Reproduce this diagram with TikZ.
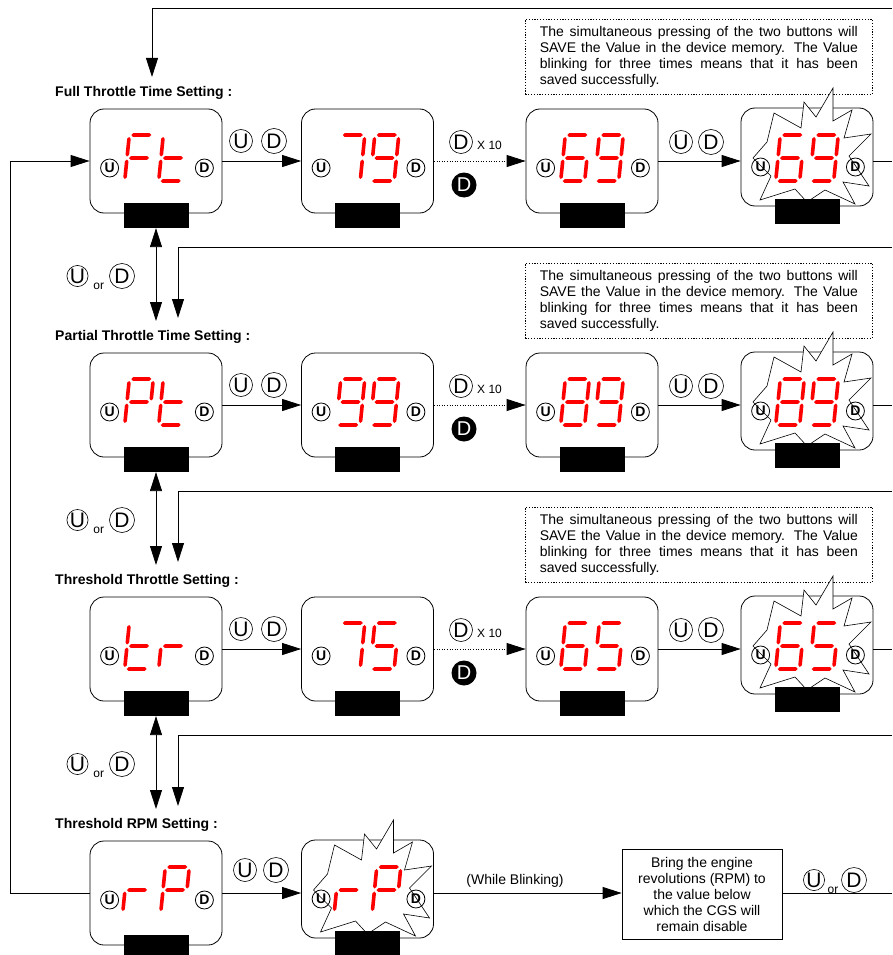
\documentclass[tikz,border=0pt]{standalone}
\usepackage{fontspec}
\setmainfont{Liberation Sans}
\usetikzlibrary{arrows.meta,calc}

\tikzset{
  dispbox/.style={draw, line width=0.8pt, rounded corners=14pt, minimum width=132pt, minimum height=104pt, inner sep=0},
  barbox/.style={fill=black, minimum width=65pt, minimum height=25pt, inner sep=0},
  smallbtn/.style={circle, draw, line width=0.8pt, minimum size=18pt, inner sep=0, font=\bfseries\fontsize{14}{14}\selectfont},
  bigbtn/.style={circle, draw, line width=0.6pt, minimum size=23pt, inner sep=0, font=\fontsize{21}{21}\selectfont},
  blackbtn/.style={circle, fill=black, minimum size=25pt, inner sep=0, text=white, font=\fontsize{20}{20}\selectfont},
  ortext/.style={inner sep=0, font=\fontsize{12}{12}\selectfont},
  lbl/.style={inner sep=0, anchor=west, font=\bfseries\fontsize{14}{16}\selectfont},
  notebox/.style={draw, dash pattern=on 1.2pt off 1.6pt, line width=0.7pt, anchor=north west, text width=318pt, inner xsep=14.5pt, inner ysep=0pt, minimum height=75pt, align=justify, font=\fontsize{14}{15.7}\selectfont},
  rectbox/.style={draw, line width=0.7pt, minimum width=160pt, minimum height=90pt, align=center, inner sep=2pt, font=\fontsize{14}{16}\selectfont},
  plaintext/.style={inner sep=0, font=\fontsize{14}{16}\selectfont},
  arr/.style={-{Triangle[length=19pt,width=12pt]}, line width=0.8pt},
  darr/.style={{Triangle[length=19pt,width=12pt]}-{Triangle[length=19pt,width=12pt]}, line width=0.8pt},
  conn/.style={line width=0.8pt},
  dotline/.style={dash pattern=on 1pt off 1.6pt},
  segred/.style={fill=red},
  starshape/.style={fill=white, draw=black, line width=0.6pt}
}

% seven-segment helpers
\newcommand\hsg[3]{\fill[segred] (#1,#3) -- ({#1+1.8},{#3-1.8}) -- ({#2-1.8},{#3-1.8}) -- (#2,#3) -- ({#2-1.8},{#3+1.8}) -- ({#1+1.8},{#3+1.8}) -- cycle;}
\newcommand\vsg[3]{\fill[segred] (#1,#2) -- ({#1+1.8},{#2+1.8}) -- ({#1+1.8},{#3-1.8}) -- (#1,#3) -- ({#1-1.8},{#3-1.8}) -- ({#1-1.8},{#2+1.8}) -- cycle;}
\def\svsa{\hsg{-10}{10}{-23}}
\def\svsb{\vsg{12}{-21}{-1.5}}
\def\svsc{\vsg{12}{1.5}{21}}
\def\svsd{\hsg{-10}{10}{23}}
\def\svse{\vsg{-12}{1.5}{21}}
\def\svsf{\vsg{-12}{-21}{-1.5}}
\def\svsg{\hsg{-10}{10}{0}}
\newcommand\sevdigit[3]{\begin{scope}[shift={({#1},{#2})}, xslant=0.1]\foreach \s in {#3}{\csname svs\s\endcsname}\end{scope}}

\newcommand\blinkstar[2]{\filldraw[starshape, shift={({#1},{#2})}] (26,-70) -- (26,-37) -- (45,-48) -- (37,-20) -- (64,-24) -- (42,-2) -- (62,28) -- (36,24) -- (48,46) -- (18,32) -- (0,44) -- (-12,31) -- (-47,42) -- (-36,18) -- (-54,0) -- (-40,-16) -- (-33,-45) -- (-6,-30) -- (-3,-56) -- (9,-41) -- cycle;}

% normal display unit: name, cx, cy, segs1, segs2, half-sep
\newcommand\dunit[6]{%
  \node[dispbox] (#1) at (#2,#3) {};
  \node[smallbtn] (#1U) at ($(#1.west)+(20,7)$) {U};
  \node[smallbtn] (#1D) at ($(#1.east)+(-18,7)$) {D};
  \sevdigit{#2-#6}{#3-3}{#4}
  \sevdigit{#2+#6}{#3-3}{#5}
  \node[barbox] (#1bar) at ($(#1.south)+(0,2)$) {};
}
% blinking display unit
\newcommand\bunit[6]{%
  \node[dispbox, minimum height=98pt] (#1) at (#2,{#3-4}) {};
  \blinkstar{#2}{#3-3}
  \node[smallbtn] (#1U) at ($(#1.west)+(20,10)$) {U};
  \node[smallbtn] (#1D) at ($(#1.east)+(-18,10)$) {D};
  \sevdigit{#2-#6}{#3-3}{#4}
  \sevdigit{#2+#6}{#3-3}{#5}
  \node[barbox] (#1bar) at ($(#1.south)+(0,5)$) {};
}
\newcommand\udpair[4]{%
  \node[bigbtn] (#1u) at (#2,#4) {U};
  \node[bigbtn, minimum size=25pt] (#1d) at (#3,#4) {D};
}
\newcommand\uord[4]{%
  \node[bigbtn, minimum size=21pt] (#1u) at (#2,#4) {U};
  \node[ortext] (#1o) at ({(#2+#3)/2-1},{#4+10}) {or};
  \node[bigbtn, minimum size=25pt] (#1d) at (#3,#4) {D};
}
\newcommand\notetxt{The simultaneous pressing of the two buttons will\linebreak SAVE the Value in the device memory. The Value\linebreak blinking for three times means that it has been\linebreak saved successfully.}

\begin{document}
\begin{tikzpicture}[x=1pt, y=-1pt]
\useasboundingbox (0,0) rectangle (892,955);

% ---------------- notes
\node[notebox] (n1) at (525,19) {\notetxt};
\node[notebox] (n2) at (525,263) {\notetxt};
\node[notebox] (n3) at (525,507) {\notetxt};

% ---------------- labels
\node[lbl] (L1) at (55,93) {Full Throttle Time Setting :};
\node[lbl] (L2) at (55,337) {Partial Throttle Time Setting :};
\node[lbl] (L3) at (55,581) {Threshold Throttle Setting :};
\node[lbl] (L4) at (55,825) {Threshold RPM Setting :};

% ---------------- row 1
\dunit{c11}{156}{161}{a,f,e,g}{f,e,d,g}{17}
\dunit{c12}{367.5}{161}{a,b,c}{a,b,c,d,f,g}{17}
\dunit{c13}{592}{161}{a,f,e,d,c,g}{a,b,c,d,f,g}{17}
\bunit{c14}{807}{161}{a,f,e,d,c,g}{a,b,c,d,f,g}{17}

% ---------------- row 2
\dunit{c21}{156}{405}{a,b,f,g,e}{f,e,d,g}{17}
\dunit{c22}{367.5}{405}{a,b,c,d,f,g}{a,b,c,d,f,g}{17}
\dunit{c23}{592}{405}{a,b,c,d,e,f,g}{a,b,c,d,f,g}{17}
\bunit{c24}{807}{405}{a,b,c,d,e,f,g}{a,b,c,d,f,g}{17}

% ---------------- row 3
\dunit{c31}{156}{649}{f,e,d,g}{e,g}{17}
\dunit{c32}{367.5}{649}{a,b,c}{a,f,g,c,d}{17}
\dunit{c33}{592}{649}{a,f,e,d,c,g}{a,f,g,c,d}{17}
\bunit{c34}{807}{649}{a,f,e,d,c,g}{a,f,g,c,d}{17}

% ---------------- row 4
\dunit{c41}{156}{893}{e,g}{a,b,f,g,e}{19}
\bunit{c42}{367.5}{893}{e,g}{a,b,f,g,e}{19}
\node[rectbox] (rb) at (702,894) {Bring the engine\\revolutions (RPM) to\\the value below\\which the CGS will\\remain disable};

% ---------------- coordinates
\coordinate (topR) at (892,8);
\coordinate (topL) at (152,8);
\coordinate (topT) at (152,77);
\coordinate (e1) at (892,161);
\coordinate (e2) at (892,405);
\coordinate (e3) at (892,649);
\coordinate (e4) at (892,893);
\coordinate (lpB) at (10,893);
\coordinate (lpT) at (10,161);
\coordinate (r1a) at (892,247); \coordinate (r1b) at (178,247); \coordinate (r1c) at (178,318);
\coordinate (r2a) at (892,491); \coordinate (r2b) at (178,491); \coordinate (r2c) at (178,562);
\coordinate (r3a) at (892,735); \coordinate (r3b) at (178,735); \coordinate (r3c) at (178,806);
\coordinate (d1) at (156,321);
\coordinate (d2) at (156,565);
\coordinate (d3) at (156,809);

% ---------------- connectors
\draw[arr] (topR) -- (topL) -- (topT);
\draw[arr] (c41.west) -- (lpB) -- (lpT) -- (c11.west);

\draw[arr] (c11.east) -- (c12.west);
\draw[arr, dotline] (c12.east) -- (c13.west);
\draw[arr] (c13.east) -- (c13.east -| c14.west);
\draw[conn] (c14.east |- c13.east) -- (e1);

\draw[arr] (c21.east) -- (c22.west);
\draw[arr, dotline] (c22.east) -- (c23.west);
\draw[arr] (c23.east) -- (c23.east -| c24.west);
\draw[conn] (c24.east |- c23.east) -- (e2);

\draw[arr] (c31.east) -- (c32.west);
\draw[arr, dotline] (c32.east) -- (c33.west);
\draw[arr] (c33.east) -- (c33.east -| c34.west);
\draw[conn] (c34.east |- c33.east) -- (e3);

\draw[arr] (c41.east) -- (c41.east -| c42.west);
\draw[arr] (c42.east |- c41.east) -- (rb.west |- c41.east);
\draw[conn] (rb.east |- c41.east) -- (e4);

\draw[arr] (r1a) -- (r1b) -- (r1c);
\draw[arr] (r2a) -- (r2b) -- (r2c);
\draw[arr] (r3a) -- (r3b) -- (r3c);
\draw[darr] (c11bar.south) -- (d1);
\draw[darr] (c21bar.south) -- (d2);
\draw[darr] (c31bar.south) -- (d3);

% ---------------- button labels on connectors
\udpair{p11}{241}{274}{141}
\udpair{p13}{681}{711}{142}
\udpair{p21}{241}{274}{385}
\udpair{p23}{681}{711}{386}
\udpair{p31}{241}{274}{629}
\udpair{p33}{681}{711}{630}
\udpair{p41}{245}{276}{870}

\node[bigbtn] (x1) at (461,142) {D};
\node[plaintext, anchor=west, font=\fontsize{12}{12}\selectfont] (x1t) at (477,145) {X 10};
\node[blackbtn] (k1) at (464,185) {D};
\node[bigbtn] (x2) at (461,386) {D};
\node[plaintext, anchor=west, font=\fontsize{12}{12}\selectfont] (x2t) at (477,389) {X 10};
\node[blackbtn] (k2) at (464,429) {D};
\node[bigbtn] (x3) at (461,630) {D};
\node[plaintext, anchor=west, font=\fontsize{12}{12}\selectfont] (x3t) at (477,633) {X 10};
\node[blackbtn] (k3) at (464,673) {D};

\uord{o1}{77.5}{122}{276}
\uord{o2}{77.5}{122}{520}
\uord{o3}{77.5}{122}{764}
\uord{o4}{814}{854}{880}

\node[plaintext] (wb) at (515,881) {(While Blinking)};
\end{tikzpicture}
\end{document}
